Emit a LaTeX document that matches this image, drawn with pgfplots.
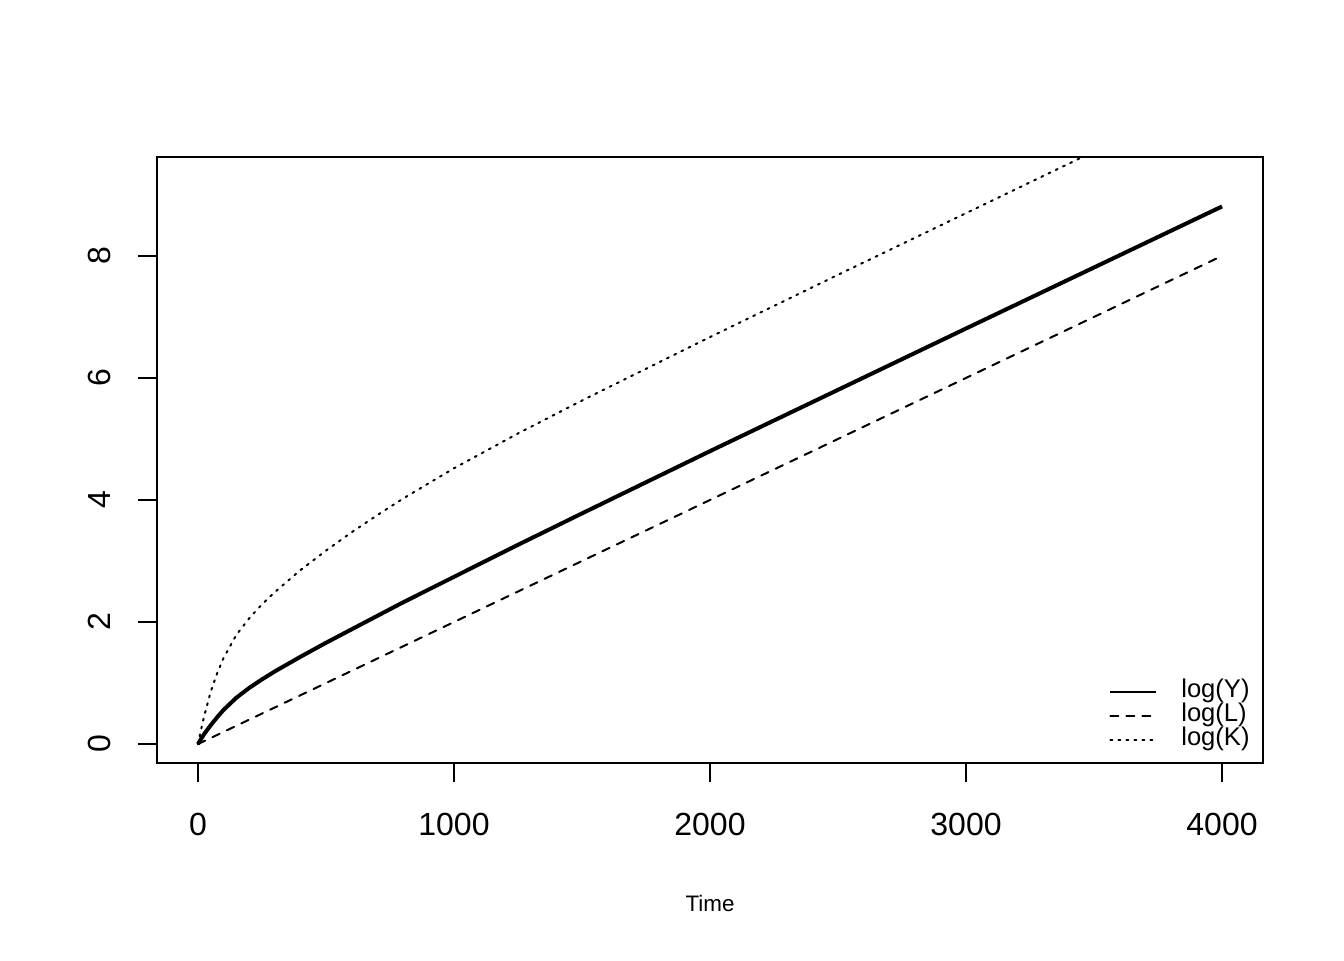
\documentclass[border=0pt]{standalone}
\usepackage{fontspec}
\setmainfont{Liberation Sans}
\usepackage{pgfplots}
\usepackage{pgfplotstable}
\pgfplotsset{compat=1.18}

\pgfplotstableread{
t logY logL logK
0 0 0 0
10 0.07 0.02 0.20
25 0.17 0.05 0.47
50 0.31 0.10 0.86
75 0.44 0.15 1.16
100 0.56 0.20 1.41
150 0.76 0.30 1.79
200 0.92 0.40 2.06
250 1.06 0.50 2.29
300 1.19 0.60 2.49
400 1.43 0.80 2.85
500 1.66 1.00 3.17
600 1.88 1.20 3.47
700 2.10 1.40 3.75
800 2.32 1.60 4.02
1000 2.74 2.00 4.52
1250 3.265 2.50 5.09
1500 3.78 3.00 5.63
2000 4.80 4.00 6.67
2500 5.805 5.00 7.69
3000 6.81 6.00 8.70
3500 7.81 7.00 9.71
4000 8.81 8.00 10.71
}\data

\begin{document}
\begin{tikzpicture}
\useasboundingbox (-78.5pt,-98.5pt) rectangle (593.5pt,381.5pt);
\begin{axis}[
  at={(0pt,0pt)}, anchor=south west,
  scale only axis, width=553pt, height=303pt,
  xmin=-160, xmax=4160, ymin=-0.31, ymax=9.62,
  axis line style={line width=1pt},
  xtick={0,1000,2000,3000,4000}, ytick={0,2,4,6,8},
  xtick pos=bottom, ytick pos=left,
  tick align=outside, major tick length=9.6pt,
  tick style={line width=1pt, black},
  /pgf/number format/assume math mode=true,
  /pgf/number format/1000 sep={},
  ticklabel style={font=\fontsize{16}{16}\selectfont},
  xticklabel style={anchor=north, yshift=-12pt},
  yticklabel style={rotate=90, anchor=center, xshift=0pt, yshift=19pt},
  yticklabel shift=0pt,
  xlabel={Time},
  xlabel style={font=\fontsize{11.2}{11.2}\selectfont, at={(axis description cs:0.5,0)}, anchor=center, yshift=-70pt},
  legend style={draw=none, fill=none, at={(rel axis cs:1,0)}, anchor=south east,
    xshift=-3.5pt, yshift=3.5pt, font=\fontsize{12.8}{12.8}\selectfont,
    nodes={inner sep=0pt, text height=9pt, text depth=3pt}, row sep=0pt},
  legend cell align=left,
  legend image code/.code={\draw[#1, line width=1pt] (0pt,0pt) -- (23pt,0pt);},
  /tikz/every odd column/.append style={column sep=12pt},
]
\addplot[black, line width=2pt, line join=round] table[x=t, y=logY] {\data};
\addlegendentry{log(Y)}
\addplot[black, line width=1pt, line cap=round, dash pattern=on 4pt off 4pt] table[x=t, y=logL] {\data};
\addlegendentry{log(L)}
\addplot[black, line width=1pt, line cap=round, dash pattern=on 1pt off 3pt] table[x=t, y=logK] {\data};
\addlegendentry{log(K)}
\end{axis}
\end{tikzpicture}
\end{document}
